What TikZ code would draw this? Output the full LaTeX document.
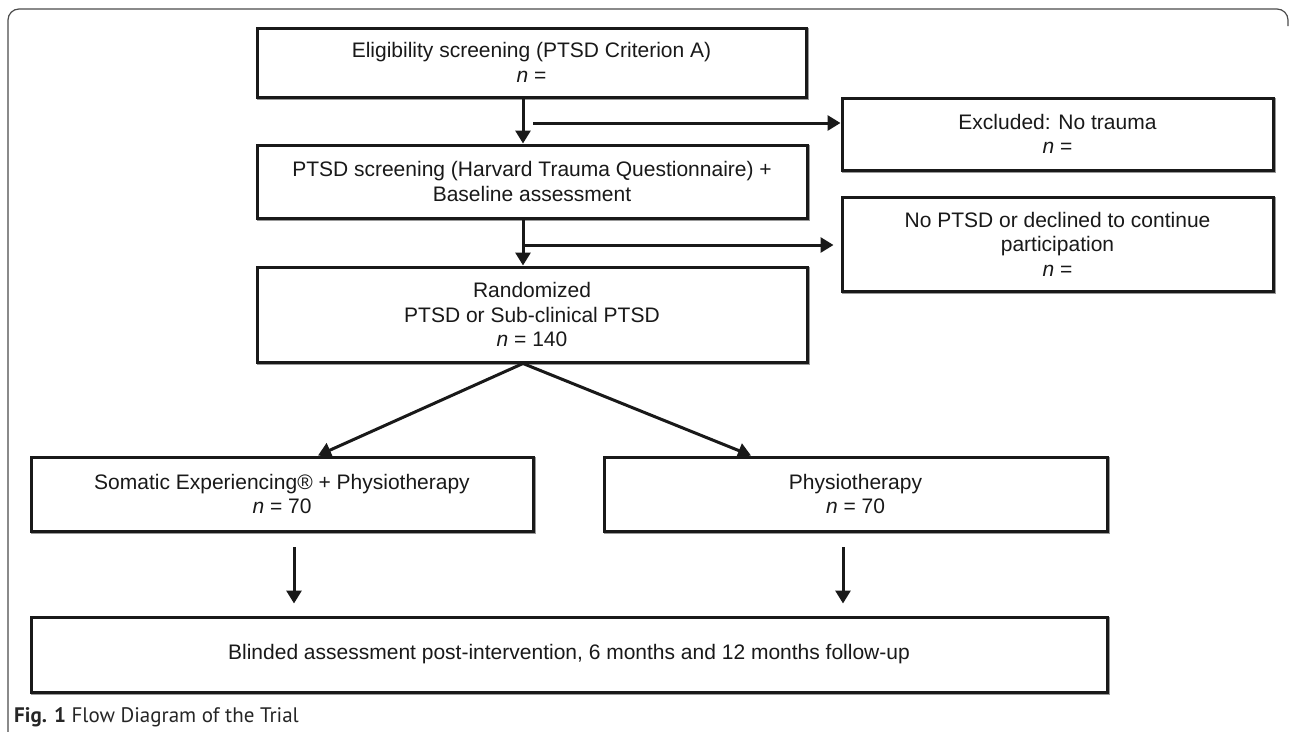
\documentclass[tikz,border=0pt]{standalone}
\usepackage{fontspec}
\setmainfont{Liberation Sans}
\newfontfamily\capfont{PT Sans}
\usetikzlibrary{arrows.meta,shadows}
\begin{document}
\begin{tikzpicture}[x=1pt,y=-1pt,
  box/.style={draw=black!90, line width=3pt, rectangle, align=center, fill=white,
    drop shadow={shadow xshift=1.4pt, shadow yshift=-1.4pt, draw=black!40,
      fill=none, opacity=1, line width=3pt},
    font=\fontsize{21}{24.5}\selectfont, text=black!90, inner sep=0pt},
  arr/.style={line width=3pt, draw=black!90, fill=black!90,
    -{Triangle[length=13pt,width=15pt]}},
  frame/.style={draw=black!70, line width=1.2pt, rounded corners=11pt}
]
\useasboundingbox (0,0) rectangle (1290,731);
\fill[white] (0,0) rectangle (1290,731);
\draw[frame] (8,740) -- (8,9) -- (1288,9) -- (1288,26);

\node[box, minimum width=549pt, minimum height=69pt] (elig) at (531.5,62.5)
  {Eligibility screening (PTSD Criterion A)\\\textit{n} =};
\node[box, minimum width=431pt, minimum height=72pt] (excl) at (1057.5,134)
  {Excluded: No trauma\\\textit{n} =};
\node[box, minimum width=550pt, minimum height=73pt] (ptsd) at (532,181.5)
  {PTSD screening (Harvard Trauma Questionnaire) +\\Baseline assessment};
\node[box, minimum width=431pt, minimum height=94pt] (nopt) at (1057.5,244)
  {No PTSD or declined to continue\\participation\\\textit{n} =};
\node[box, minimum width=550pt, minimum height=95pt] (rand) at (532,314.5)
  {Randomized\\PTSD or Sub-clinical PTSD\\\textit{n} = 140};
\node[box, minimum width=502pt, minimum height=74pt] (soma) at (282,494)
  {Somatic Experiencing® + Physiotherapy\\\textit{n} = 70};
\node[box, minimum width=503pt, minimum height=74pt] (phys) at (855.5,494)
  {Physiotherapy\\\textit{n} = 70};
\node[box, minimum width=1076pt, minimum height=75pt] (blind) at (569,654.5)
  {Blinded assessment post-intervention, 6 months and 12 months follow-up};

\node[anchor=west, inner sep=0pt, font=\capfont\fontsize{21}{25}\selectfont, text=black!85] (cap) at (14,717)
  {\textbf{Fig. 1} Flow Diagram of the Trial};

\coordinate (v) at (523,0);
\coordinate (h1) at (533,123);
\coordinate (h2) at (523,245);
\coordinate (ts) at (318,0);
\coordinate (tp) at (751,0);
\coordinate (d1) at (294,547);
\coordinate (d2) at (843,547);

\draw[arr] (elig.south -| v) -- (ptsd.north -| v);
\draw[arr] (h1) -- (h1 -| excl.west);
\draw[arr] (ptsd.south -| v) -- (rand.north -| v);
\draw[arr, shorten >=7pt] (h2) -- (h2 -| nopt.west);
\draw[arr] (rand.south -| v) -- (soma.north -| ts);
\draw[arr] (rand.south -| v) -- (phys.north -| tp);
\draw[arr, shorten >=12pt] (d1) -- (d1 |- blind.north);
\draw[arr, shorten >=12pt] (d2) -- (d2 |- blind.north);
\end{tikzpicture}
\end{document}
